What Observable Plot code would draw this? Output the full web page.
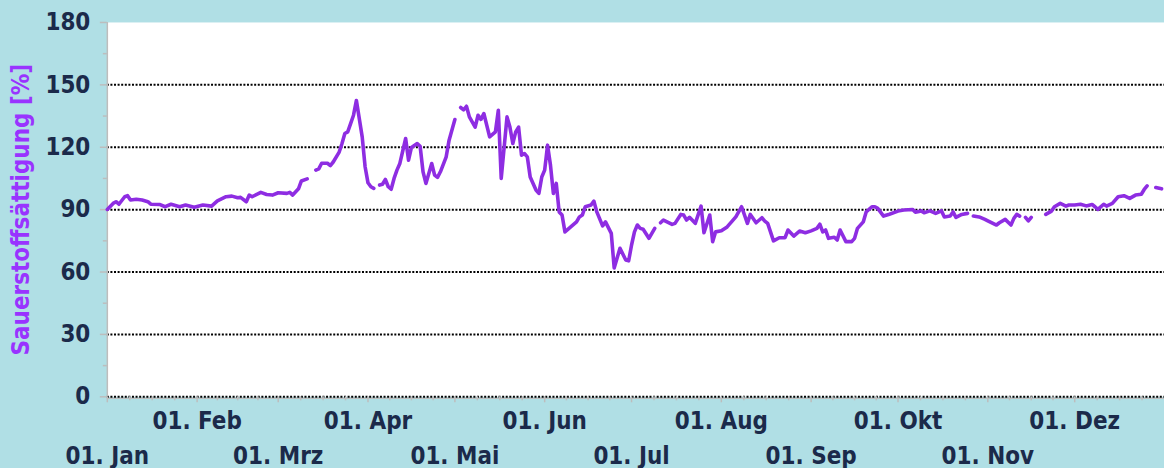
<!DOCTYPE html>
<html><head><meta charset="utf-8">
<script src="https://cdn.jsdelivr.net/npm/d3@7"></script>
<script src="https://cdn.jsdelivr.net/npm/@observablehq/plot@0.6"></script>
<style>
html,body{margin:0;padding:0;background:#b0dfe5;overflow:hidden;width:1164px;height:468px}
#chart svg{display:block}
</style></head><body><div id="chart"></div>
<script>
const year = 2019;
// day of year (0 = 1 Jan) and oxygen saturation [%]; null = gap in the record
const days = [0,2,3,4,6,7,8,10,12,14,15,18,20,22,25,27,30,33,36,38,41,43,45,46,48,49,50,53,55,57,59,62,63,64,66,67,69,
70,
72,73,74,76,77,78,80,81,82,83,84,85,86,88,89,90,91,92,
93,
94,95,96,97,98,99,100,101,103,104,105,107,108,109,110,112,113,114,115,117,118,120,
121,
122,123,124,125,127,128,129,130,132,134,135,136,138,139,140,141,142,143,144,145,146,148,149,150,151,152,153,154,155,156,157,158,160,162,163,164,165,167,168,169,171,172,174,175,177,179,180,181,182,183,184,185,187,189,
190,
191,192,195,196,198,199,200,201,203,205,206,208,209,210,212,214,217,219,221,222,224,226,227,228,230,232,234,235,237,239,241,243,245,246,247,248,249,251,252,253,255,257,258,259,261,262,264,265,266,268,270,273,275,278,279,281,282,284,286,288,289,291,292,293,295,297,
298,
299,301,303,304,307,308,310,312,313,314,315,
316,
317,318,319,
320,
324,326,327,329,331,332,334,336,338,340,341,342,344,345,347,349,351,353,355,357,358,359,
360,
362,364];
const values = [90.1,93.0,93.8,92.6,96.2,96.7,94.6,95.0,94.6,93.8,92.6,92.5,91.4,92.6,91.4,92.2,91.1,92.2,91.7,94.2,96.2,96.5,95.7,95.9,93.8,97.0,96.2,98.3,97.3,97.0,98.1,97.8,98.3,97.0,100.0,103.8,104.8,
null,
109.0,109.6,112.3,112.3,111.2,112.9,117.5,121.7,126.6,127.4,131.4,135.4,142.5,125.0,110.6,102.9,101.0,100.2,
null,
101.8,102.2,104.5,101.0,99.8,105.0,109.0,112.2,124.2,113.8,119.9,121.8,120.5,108.2,102.6,112.2,106.6,105.5,108.2,115.4,123.4,133.3,
null,
139.1,138.0,139.7,134.6,129.7,135.4,133.4,136.2,125.0,127.4,137.8,105.0,134.6,129.7,121.8,127.4,129.7,116.2,117.0,115.4,105.7,99.4,97.8,105.7,109.0,121.0,111.4,97.8,102.6,88.9,87.4,79.3,81.7,84.1,86.5,87.4,91.4,92.2,94.1,88.9,82.2,84.1,78.6,62.0,71.4,65.8,65.4,73.0,79.3,82.6,81.0,80.6,76.2,81.0,
null,
83.7,85.0,82.9,83.4,87.7,87.4,85.0,86.3,83.4,91.7,78.9,87.4,74.6,79.3,79.8,81.7,86.5,91.4,83.4,87.7,83.7,86.1,84.5,83.4,75.0,76.5,76.5,80.2,77.3,79.7,78.9,79.8,81.0,83.0,79.3,80.2,76.2,76.7,75.4,80.2,74.6,74.6,76.2,81.0,84.1,88.9,91.4,91.4,90.6,86.9,87.8,89.3,89.8,90.1,88.8,89.4,88.5,89.4,88.2,89.4,86.5,86.9,88.9,86.3,87.7,88.2,
null,
86.9,86.5,85.3,84.6,82.6,83.7,85.3,82.6,85.8,87.7,86.9,
null,
86.3,84.6,86.3,
null,
87.7,89.3,91.4,93.0,91.7,92.2,92.2,92.6,91.8,92.5,91.4,90.1,92.6,91.7,93.0,96.2,96.7,95.4,97.0,97.4,99.7,101.4,
null,
100.6,100.0];
const monthLabels = ["01. Jan","01. Feb","01. Mrz","01. Apr","01. Mai","01. Jun","01. Jul","01. Aug","01. Sep","01. Okt","01. Nov","01. Dez"];
const yTicks = [0,30,60,90,120,150,180];
const yMinorTicks = [15,45,75,105,135,165];
const gridValues = [0,30,60,90,120,150];
const yTitle = "Sauerstoffsättigung [%]";

const data = days.map((d,i)=>({date:new Date(year,0,1+d), value: values[i]}));
const monthStarts = d3.range(12).map(m=>new Date(year,m,1));
const quarterTicks = monthStarts.flatMap((s,m)=>{const e=new Date(year,m+1,1); return [1,2,3].map(k=>new Date(+s + k*(e-s)/4));});
const font = '"DejaVu Sans Condensed", "Liberation Sans Narrow", "DejaVu Sans", sans-serif';
const navy = "#1b2a4a";
const grey = "#bdbdbd";

const chart = Plot.plot({
  width:1166, height:468, marginLeft:107, marginRight:0, marginTop:22, marginBottom:71,
  style:{background:"#b0dfe5", fontFamily:font, overflow:"visible"},
  x:{type:"time", domain:[new Date(year,0,1), new Date(year+1,0,1)]},
  y:{domain:[0,180]},
  marks:[
    Plot.frame({fill:"white", stroke:null}),
    Plot.ruleY([0], {stroke:grey, strokeWidth:1.5, dy:1.5}),
    Plot.ruleY(gridValues, {stroke:"black", strokeWidth:2, strokeDasharray:"2,1.6"}),
    Plot.ruleX([new Date(year,0,1)], {stroke:grey, strokeWidth:1.5}),
    Plot.axisY(yTicks, {tickSize:7, stroke:grey, strokeWidth:1.5, tickFormat:()=>"", label:null}),
    Plot.axisY(yMinorTicks, {tickSize:4, stroke:grey, strokeWidth:1.5, tickFormat:()=>"", label:null}),
    Plot.axisY(yTicks, {tickSize:0, tickPadding:17, color:navy, fontSize:24, fontWeight:"bold", label:null}),
    Plot.axisX(monthStarts, {tickSize:6, stroke:grey, strokeWidth:1.5, tickFormat:()=>"", label:null}),
    Plot.axisX(quarterTicks, {tickSize:4, stroke:grey, strokeWidth:1.5, tickFormat:()=>"", label:null}),
    Plot.axisX(monthStarts.filter((_,i)=>i%2===1), {tickSize:0, tickPadding:15, color:navy, fontSize:24, fontWeight:"bold", label:null, tickFormat:d=>monthLabels[d.getMonth()]}),
    Plot.axisX(monthStarts.filter((_,i)=>i%2===0), {tickSize:0, tickPadding:50, color:navy, fontSize:24, fontWeight:"bold", label:null, tickFormat:d=>monthLabels[d.getMonth()]}),
    Plot.line(data, {x:"date", y:"value", stroke:"#8e2de2", strokeWidth:3.6, strokeLinejoin:"round", strokeLinecap:"round"}),
    Plot.text([yTitle], {text:d=>d, frameAnchor:"left", dx:-86, rotate:-90, fill:"#9933ff", fontSize:24, fontWeight:"bold", textAnchor:"middle"})
  ]
});
document.getElementById("chart").append(chart);
</script></body></html>
